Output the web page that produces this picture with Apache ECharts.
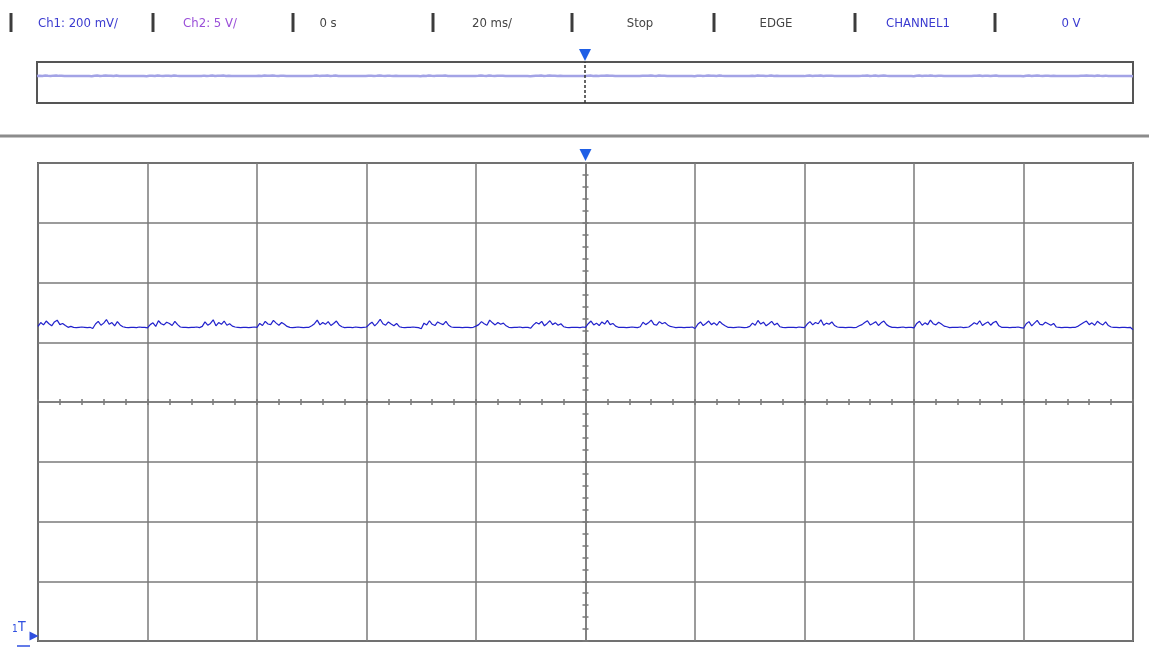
<!DOCTYPE html>
<html>
<head>
<meta charset="utf-8">
<script src="https://cdn.jsdelivr.net/npm/echarts@6/dist/echarts.min.js"></script>
<style>
html,body{margin:0;padding:0;background:#fff;}
#chart{width:1149px;height:652px;}
</style>
</head>
<body>
<div id="chart"></div>
<script>
// ---- header readouts ----
const headerLabels = ['Ch1: 200 mV/', 'Ch2: 5 V/', '0 s', '20 ms/', 'Stop', 'EDGE', 'CHANNEL1', '0 V'];
const headerColors = ['#3b3bd0', '#9a4fd8', '#444444', '#444444', '#444444', '#444444', '#3b3bd0', '#3b3bd0'];
const headerCenters = [78, 210, 328, 492, 640, 776, 918, 1071];
const headerBars = [11, 153, 293, 433, 572, 714, 855, 995];

// ---- time axis (ms) ----
const timeMin = -100, timeMax = 100, timeDiv = 20;
const sampleStartMs = -100, sampleStepMs = 0.5;
// ---- voltage axis (mV), 200 mV/div ----
const voltMin = -800, voltMax = 800, voltDiv = 200;
const triggerTime = 0;

// ---- Ch1 samples (mV) ----
const ch1 = [
253,266,258,271,262,255,268,274,259,263,256,250,253,250,249,250,251,250,249,250,
246,261,270,257,264,276,260,266,255,269,258,252,250,249,250,250,249,251,250,250,
248,259,265,253,272,262,258,267,263,256,270,259,251,250,250,249,250,250,251,249,
253,268,257,263,275,255,266,260,271,257,262,254,251,250,249,250,250,249,250,251,
250,263,256,270,261,259,273,264,257,266,260,253,250,249,250,251,250,249,250,250,
255,262,274,258,266,260,269,256,263,271,258,252,249,250,250,249,251,250,249,250,
251,260,267,255,264,277,262,257,268,261,255,263,252,250,249,250,250,251,250,249,
245,264,258,272,260,256,268,263,259,270,257,251,250,250,250,249,250,250,249,250,
254,259,269,262,257,274,265,258,266,260,264,255,250,249,250,250,251,249,250,250,
247,258,266,261,270,255,263,272,259,265,257,262,252,250,249,250,250,250,249,251,
250,262,271,258,264,256,268,261,273,259,263,254,250,250,250,249,250,251,250,249,
252,267,259,265,274,260,257,269,262,266,258,253,251,249,250,250,249,250,250,251,
246,260,268,256,263,271,259,265,257,270,261,255,250,250,249,250,251,250,249,250,
253,264,257,273,261,267,255,262,270,258,264,252,250,249,250,250,250,249,251,250,
249,261,269,258,266,262,275,257,264,260,268,256,251,250,250,249,250,250,249,250,
255,259,266,272,258,263,269,256,265,271,259,253,250,250,249,250,251,249,250,250,
248,263,270,257,265,259,274,262,258,267,261,254,252,249,250,250,250,251,249,250,
251,258,265,260,272,256,263,268,257,266,270,255,250,250,250,249,250,250,251,249,
247,262,269,255,264,273,260,258,267,262,257,263,251,250,249,250,250,249,250,250,
254,260,266,271,259,265,257,270,263,258,268,256,251,250,250,249,250,250,249,250,
242
];

const seriesData = ch1.map((v, i) => [sampleStartMs + i * sampleStepMs, v]);

const chart = echarts.init(document.getElementById('chart'), null, {renderer: 'canvas'});

const FONT = "'Liberation Sans Narrow', 'DejaVu Sans Condensed', 'Liberation Sans', sans-serif";
const graphics = [];
headerBars.forEach(x => {
  graphics.push({type: 'rect', shape: {x: x - 1.5, y: 13, width: 3, height: 19}, style: {fill: '#3c3c3c'}, silent: true});
});
headerLabels.forEach((t, i) => {
  graphics.push({type: 'text', x: headerCenters[i], y: 24, style: {text: t, fill: headerColors[i], font: '13px ' + FONT, textAlign: 'center', textVerticalAlign: 'middle'}, silent: true});
});
graphics.push({type: 'line', shape: {x1: 0, y1: 136, x2: 1149, y2: 136}, style: {stroke: '#8c8c8c', lineWidth: 3}, silent: true});
graphics.push({type: 'text', x: 12, y: 624, style: {text: '1', fill: '#2f4fe0', font: '10px ' + FONT}, silent: true});
graphics.push({type: 'text', x: 18, y: 620, style: {text: 'T', fill: '#2f4fe0', font: '14px ' + FONT}, silent: true});
graphics.push({type: 'line', shape: {x1: 17, y1: 646, x2: 30, y2: 646}, style: {stroke: '#2f4fe0', lineWidth: 1.5}, silent: true});

const gridLine = {color: '#7a7a7a', width: 1.5};

const option = {
  animation: false,
  backgroundColor: '#ffffff',
  graphic: graphics,
  grid: [
    {left: 37, right: 16, top: 62, bottom: 549, show: true, borderColor: '#555555', borderWidth: 2, backgroundColor: 'transparent'},
    {left: 38, right: 16, top: 163, bottom: 11, show: true, borderColor: '#5a5a5a', borderWidth: 2, backgroundColor: 'transparent'}
  ],
  xAxis: [
    {gridIndex: 0, type: 'value', min: timeMin, max: timeMax, interval: timeDiv, show: false},
    {gridIndex: 1, type: 'value', min: timeMin, max: timeMax, interval: timeDiv,
      axisLine: {show: true, onZero: true, lineStyle: gridLine},
      axisTick: {show: true, length: 3, inside: false, lineStyle: gridLine},
      minorTick: {show: true, splitNumber: 5, length: 3, lineStyle: gridLine},
      splitLine: {show: true, lineStyle: gridLine},
      axisLabel: {show: false}},
    {gridIndex: 1, type: 'value', min: timeMin, max: timeMax, interval: timeDiv, position: 'top',
      axisLine: {show: false, onZero: true},
      axisTick: {show: true, length: 3, inside: false, lineStyle: gridLine},
      minorTick: {show: true, splitNumber: 5, length: 3, lineStyle: gridLine},
      splitLine: {show: false}, axisLabel: {show: false}}
  ],
  yAxis: [
    {gridIndex: 0, type: 'value', min: voltMin, max: voltMax, interval: voltDiv, show: false},
    {gridIndex: 1, type: 'value', min: voltMin, max: voltMax, interval: voltDiv,
      axisLine: {show: true, onZero: true, lineStyle: gridLine},
      axisTick: {show: true, length: 3, inside: false, lineStyle: gridLine},
      minorTick: {show: true, splitNumber: 5, length: 3, lineStyle: gridLine},
      splitLine: {show: true, lineStyle: gridLine},
      axisLabel: {show: false}},
    {gridIndex: 1, type: 'value', min: voltMin, max: voltMax, interval: voltDiv, position: 'right',
      axisLine: {show: false, onZero: true},
      axisTick: {show: true, length: 3, inside: false, lineStyle: gridLine},
      minorTick: {show: true, splitNumber: 5, length: 3, lineStyle: gridLine},
      splitLine: {show: false}, axisLabel: {show: false}}
  ],
  series: [
    {
      name: 'overview', type: 'line', xAxisIndex: 0, yAxisIndex: 0, data: seriesData,
      showSymbol: false, symbol: 'none', clip: false, silent: true,
      lineStyle: {color: '#a3a3e6', width: 2.5},
      markLine: {silent: true, symbol: 'none', label: {show: false},
        lineStyle: {color: '#333333', width: 1.5, type: [3, 2]},
        data: [{xAxis: triggerTime}]},
      markPoint: {silent: true, symbol: 'triangle', symbolRotate: 180, symbolSize: [12, 12], symbolOffset: [0, -7],
        itemStyle: {color: '#1f5fe6'}, label: {show: false},
        data: [{coord: [triggerTime, voltMax]}]}
    },
    {
      name: 'Ch1', type: 'line', xAxisIndex: 1, yAxisIndex: 1, data: seriesData,
      showSymbol: false, symbol: 'none', clip: false, silent: true,
      lineStyle: {color: '#2222cc', width: 1.2},
      markPoint: {silent: true, label: {show: false},
        data: [
          {coord: [triggerTime, voltMax], symbol: 'triangle', symbolRotate: 180, symbolSize: [12, 12], symbolOffset: [0, -8], itemStyle: {color: '#1f5fe6'}},
          {coord: [timeMin, voltMin], symbol: 'triangle', symbolRotate: -90, symbolSize: [9, 9], symbolOffset: [-4, -5], itemStyle: {color: '#2f4fe0'}}
        ]}
    }
  ]
};
chart.setOption(option);
</script>
</body>
</html>
